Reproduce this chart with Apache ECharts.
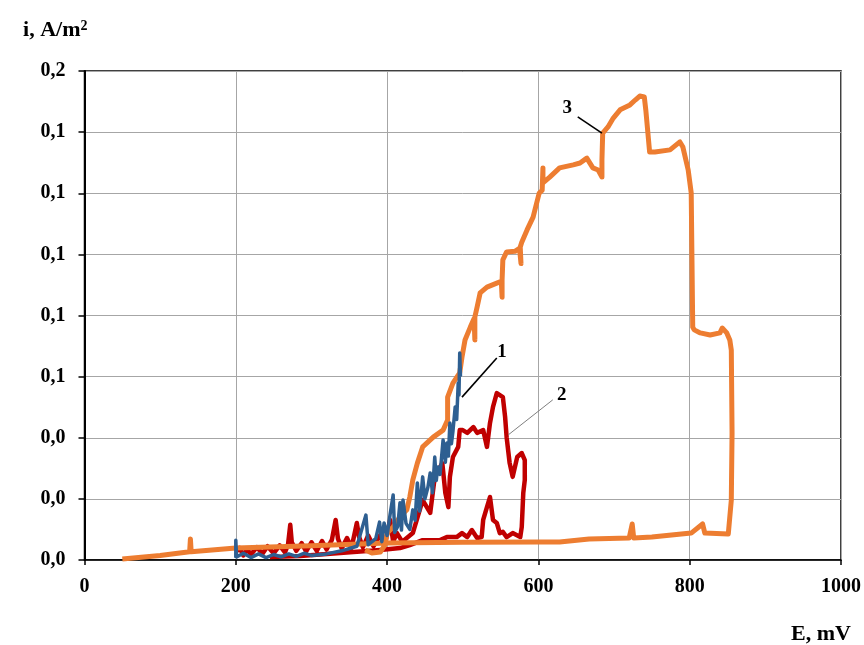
<!DOCTYPE html>
<html>
<head>
<meta charset="utf-8">
<script src="https://cdn.jsdelivr.net/npm/echarts@6/dist/echarts.min.js"></script>
<style>html,body{margin:0;padding:0;background:#fff}#c{width:864px;height:645px}</style>
</head>
<body>
<div id="c"></div>
<script>
// Tick labels as printed on the original (values rounded to one decimal)
const yTickLabels = ['0,0','0,0','0,0','0,1','0,1','0,1','0,1','0,1','0,2'];
const xTickLabels = ['0','200','400','600','800','1000'];

// Curve 1 (blue): E, mV ; i, A/m2
const curve1 = [
 [200,0.0007],[200,0.0065],[201,0.0010],[210,0.0022],[220,0.0008],[230,0.0020],[240,0.0008],[250,0.0018],
 [260,0.0010],[270,0.0020],[280,0.0012],[290,0.0022],[300,0.0015],[320,0.0020],[340,0.0030],[360,0.0045],
 [372,0.0147],[375,0.0050],[385,0.0070],[390,0.0124],[393,0.0060],
 [396,0.0121],[400,0.0080],[404,0.0150],[408,0.0213],[410,0.0090],[414,0.0110],[417,0.0187],[419,0.0098],
 [421,0.0196],[425,0.0120],[430,0.0100],[434,0.0164],[437,0.0130],[440,0.0252],[443,0.0160],[447,0.0272],
 [450,0.0200],[454,0.0239],[457,0.0285],[460,0.0220],[463,0.0337],[465,0.0260],[467,0.0304],[470,0.0280],
 [474,0.0393],[477,0.0320],[479,0.0383],[481,0.0340],[483,0.0448],[485,0.0380],[487,0.0420],[490,0.0501],
 [492,0.0460],[494,0.0579],[495,0.0540],[496,0.0677],[497,0.0600]
];

// Curve 2 (red)
const curve2 = [
 [200,0.0026],[205,0.0040],[210,0.0015],[215,0.0035],[220,0.0018],[228,0.0042],[235,0.0020],[242,0.0045],
 [250,0.0022],[258,0.0048],[265,0.0025],[269,0.0050],[272,0.0115],[274,0.0058],[280,0.0030],[287,0.0055],
 [293,0.0028],[300,0.0058],[307,0.0030],[314,0.0062],[320,0.0035],[327,0.0066],[332,0.0131],[335,0.0070],
 [340,0.0038],[347,0.0072],[353,0.0040],[360,0.0121],[363,0.0075],[368,0.0042],[375,0.0080],[382,0.0045],
 [391,0.0082],[397,0.0050],[404,0.0131],[408,0.0060],[413,0.0088],[420,0.0060],[434,0.0088],
 [447,0.0196],[457,0.0154],[463,0.0272],[473,0.0317],[477,0.0219],
 [481,0.0173],[483,0.0272],[487,0.0337],[494,0.0370],[496,0.0425],[500,0.0425],[506,0.0416],[514,0.0435],
 [519,0.0416],[527,0.0425],[532,0.0370],[536,0.0448],[540,0.0501],[545,0.0546],[553,0.0533],[556,0.0468],
 [558,0.0402],[562,0.0317],[566,0.0272],[572,0.0337],[578,0.0350],[582,0.0327],[582,0.0262],[580,0.0219],
 [578,0.0108],[576,0.0075],[566,0.0088],[558,0.0075],[553,0.0092],[549,0.0088],[545,0.0121],[540,0.0131],
 [536,0.0206],[532,0.0173],[527,0.0131],[525,0.0075],[519,0.0072],[512,0.0098],[506,0.0075],[499,0.0088],
 [492,0.0075],[479,0.0075],[470,0.0065],[447,0.0065],[430,0.0049],[417,0.0039],[391,0.0033],[338,0.0023],
 [285,0.0013],[245,0.0010]
];

// Curve 3 (orange)
const curve3 = [
 [50,0.0003],[100,0.0015],[139,0.0027],[140,0.0069],[141,0.0027],[200,0.0039],[300,0.0047],[400,0.0056],
 [500,0.0058],[602,0.0059],[628,0.0059],[667,0.0069],[720,0.0072],[724,0.0118],[726,0.0072],[750,0.0075],
 [802,0.0088],[817,0.0118],[820,0.0088],[851,0.0085],[855,0.0196],[856,0.0416],[855,0.0687],[853,0.0720],
 [849,0.0743],[843,0.0759],[840,0.0743],[827,0.0736],[814,0.0743],[806,0.0753],[804,0.0762],[803,0.0982],
 [802,0.1201],[798,0.1276],[791,0.1351],[787,0.1368],[774,0.1342],[754,0.1335],[747,0.1335],[745,0.1340],
 [742,0.1472],[740,0.1515],[734,0.1518],[728,0.1505],[721,0.1489],[708,0.1473],[699,0.1446],[692,0.1417],
 [685,0.1397],[684,0.1309],[684,0.1253],[679,0.1276],[672,0.1283],[664,0.1315],[655,0.1299],[646,0.1293],
 [628,0.1283],[615,0.1253],[606,0.1234],[606,0.1283],[605,0.1210],[601,0.1200],[593,0.1122],[585,0.1080],
 [578,0.1040],[576,0.1024],[577,0.0970],[575,0.1020],[569,0.1010],[558,0.1008],[553,0.0982],[552,0.0916],
 [552,0.0860],[551,0.0912],[545,0.0906],[532,0.0893],[523,0.0874],[519,0.0828],[516,0.0795],[516,0.0720],
 [515,0.0790],[510,0.0762],[503,0.0720],[499,0.0664],[496,0.0612],[494,0.0605],[487,0.0579],[480,0.0533],
 [480,0.0458],[474,0.0425],[461,0.0402],[447,0.0370],[440,0.0317],[434,0.0262],[430,0.0206],[426,0.0164],
 [417,0.0141],[408,0.0108],[400,0.0088],[397,0.0049],[391,0.0026],[380,0.0023],[371,0.0033]
];

// Annotation numbers and their leader lines (data coordinates)
const annotLabels = [
 {name:'1', coord:[552,0.0681]},
 {name:'2', coord:[631,0.0540]},
 {name:'3', coord:[638,0.1479]}
];
const annotLeaders = [
 {from:[545,0.0661], to:[499,0.0533], color:'#000000', width:1.6},
 {from:[619,0.0524], to:[560,0.0409], color:'#7f7f7f', width:1},
 {from:[652,0.1450], to:[684,0.1397], color:'#000000', width:1.6}
];

const FONT = '"Liberation Serif","Times New Roman",serif';
const chart = echarts.init(document.getElementById('c'), null, {renderer:'canvas'});
chart.setOption({
  animation:false,
  backgroundColor:'#ffffff',
  grid:{left:84.5, right:22, top:71, bottom:85, show:true, borderColor:'#000', borderWidth:1.5, backgroundColor:'transparent'},
  xAxis:{
    type:'value', min:0, max:1000, interval:200,
    name:'E, mV', nameLocation:'end', nameGap:10,
    nameTextStyle:{fontFamily:FONT, fontWeight:'bold', fontSize:22, color:'#000', align:'right', verticalAlign:'top', padding:[63,0,0,0]},
    axisLine:{show:true, onZero:false, lineStyle:{color:'#000', width:1.5}},
    axisTick:{show:true, length:5, lineStyle:{color:'#000', width:1.5}},
    axisLabel:{fontFamily:FONT, fontWeight:'bold', fontSize:20, color:'#000', margin:17,
      formatter:function(v){ return xTickLabels[Math.round(v/200)]; }},
    splitLine:{show:true, lineStyle:{color:'#a6a6a6', width:1}}
  },
  yAxis:{
    type:'value', min:0, max:0.16, interval:0.02,
    name:'i, A/m{s|2}', nameLocation:'end', nameGap:29,
    nameTextStyle:{fontFamily:FONT, fontWeight:'bold', fontSize:22, color:'#000', align:'right', padding:[0,-3,0,0],
      rich:{s:{fontFamily:FONT, fontWeight:'bold', fontSize:14, color:'#000', verticalAlign:'top', padding:[0,0,9,0]}}},
    axisLine:{show:true, onZero:false, lineStyle:{color:'#000', width:2}},
    axisTick:{show:true, length:6, lineStyle:{color:'#000', width:1.5}},
    axisLabel:{fontFamily:FONT, fontWeight:'bold', fontSize:20, color:'#000', margin:19,
      formatter:function(v){ return yTickLabels[Math.round(v/0.02)]; }},
    splitLine:{show:true, lineStyle:{color:'#a6a6a6', width:1}}
  },
  series:[
    {name:'2', type:'line', data:curve2, showSymbol:false, symbol:'none', z:2,
     lineStyle:{color:'#c00000', width:4.5, join:'round'}, itemStyle:{color:'#c00000'}},
    {name:'3', type:'line', data:curve3, showSymbol:false, symbol:'none', z:3,
     lineStyle:{color:'#ed7d31', width:5, join:'round'}, itemStyle:{color:'#ed7d31'},
     markLine:{silent:true, symbol:['none','none'], animation:false, label:{show:false},
       data: annotLeaders.map(a=>[{coord:a.from, lineStyle:{color:a.color, width:a.width, type:'solid'}},{coord:a.to}])},
     markPoint:{silent:true, animation:false, symbol:'circle', symbolSize:0,
       label:{show:true, position:'inside', formatter:'{b}', fontFamily:FONT, fontWeight:'bold', fontSize:19, color:'#000'},
       data: annotLabels.map(a=>({name:a.name, coord:a.coord, value:0}))}},
    {name:'1', type:'line', data:curve1, showSymbol:false, symbol:'none', z:4,
     lineStyle:{color:'#2e5f91', width:3.5, join:'round'}, itemStyle:{color:'#2e5f91'}}
  ]
});
</script>
</body>
</html>
